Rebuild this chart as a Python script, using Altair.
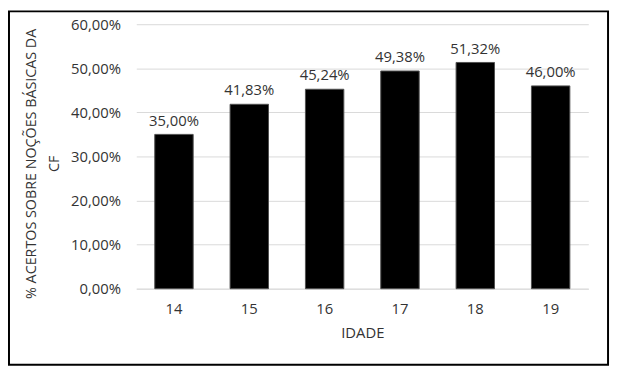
import altair as alt
import pandas as pd

idades = ["14", "15", "16", "17", "18", "19"]
acertos = [35.00, 41.83, 45.24, 49.38, 51.32, 46.00]
rotulos = [f"{v:.2f}".replace(".", ",") + "%" for v in acertos]

df = pd.DataFrame({"idade": idades, "acertos": acertos, "rotulo": rotulos})

FONT = "Open Sans"
TXT = "#333333"

base = alt.Chart(df)

bars = base.mark_bar(color="black", stroke="#505050", strokeWidth=1).encode(
    x=alt.X("idade:N", sort=idades,
            scale=alt.Scale(paddingInner=0.49, paddingOuter=0.245),
            axis=alt.Axis(title="IDADE", labelAngle=0, ticks=False, labelPadding=13,
                          domainColor="#d9d9d9", titlePadding=9)),
    y=alt.Y("acertos:Q",
            scale=alt.Scale(domain=[0, 60], nice=False),
            axis=alt.Axis(title=["% ACERTOS SOBRE NOÇÕES BÁSICAS DA", "CF"],
                          values=[0, 10, 20, 30, 40, 50, 60],
                          labelExpr="replace(format(datum.value, '.2f'), '.', ',') + '%'",
                          ticks=False, domain=False, labelPadding=16,
                          gridColor="#d9d9d9", titlePadding=9, titleLineHeight=24,
                          titleFontSize=14.5, titleY=141)),
)

text = base.mark_text(baseline="bottom", dy=-6, font=FONT, fontSize=15, color=TXT).encode(
    x=alt.X("idade:N", sort=idades),
    y="acertos:Q",
    text="rotulo:N",
)

frame = alt.Chart(pd.DataFrame({"k": [0]})).mark_rect(
    fill=None, stroke="black", strokeWidth=2, clip=False
).encode(
    x=alt.value(-129), x2=alt.value(478),
    y=alt.value(-13), y2=alt.value(345),
)

chart = alt.layer(bars, text, frame).properties(
    width=458, height=268,
    autosize=alt.AutoSizeParams(type="none"),
    padding={"left": 130, "top": 14, "right": 23, "bottom": 82},
).configure_view(stroke=None).configure_axis(
    labelFont=FONT, labelFontSize=15, labelColor=TXT,
    titleFont=FONT, titleFontSize=15, titleColor=TXT, titleFontWeight="normal",
)

chart.save("out.html", embed_options={"renderer": "svg", "actions": False})
